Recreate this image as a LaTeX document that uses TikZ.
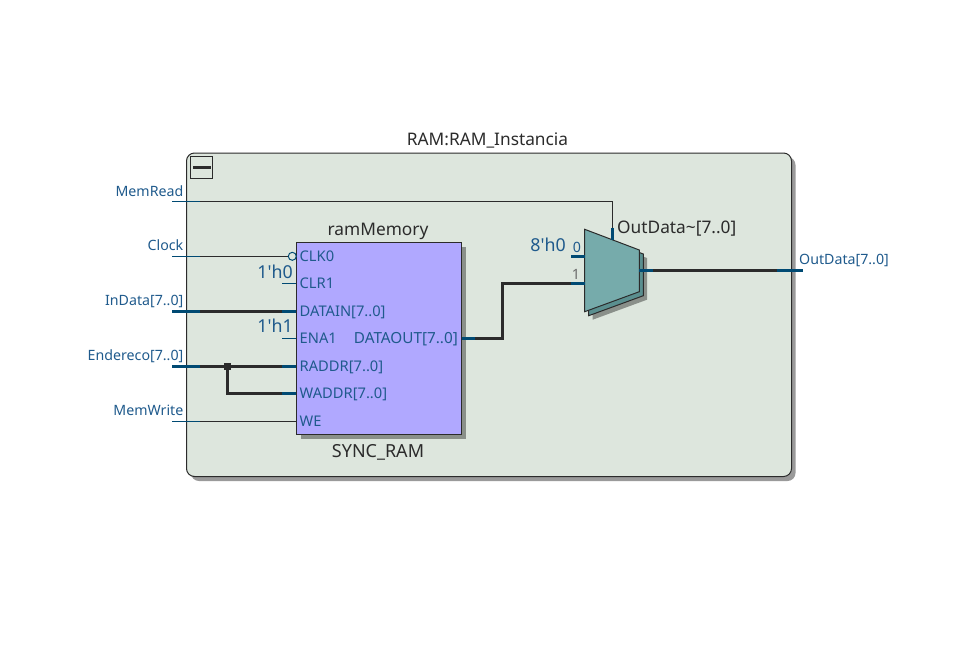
\documentclass[tikz,border=0pt]{standalone}
\usepackage{fontspec}
\setmainfont{Noto Sans}
\definecolor{frameFill}{HTML}{DDE6DD}
\definecolor{shadowGray}{HTML}{9A9A9A}
\definecolor{blockShadow}{HTML}{8A908A}
\definecolor{blockFill}{HTML}{B0A8FF}
\definecolor{muxFill}{HTML}{76ABAB}
\definecolor{muxBack}{HTML}{5A8F8F}
\definecolor{wireDark}{HTML}{2B2B2B}
\definecolor{wireTeal}{HTML}{004A73}
\definecolor{labelBlue}{HTML}{1F5A8C}
\tikzset{
  thinW/.style={draw=wireDark,line width=1pt},
  thinT/.style={draw=wireTeal,line width=1pt},
  busW/.style={draw=wireDark,line width=3pt},
  busT/.style={draw=wireTeal,line width=3pt},
  lbl/.style={inner sep=0pt,text=labelBlue,font=\fontsize{14.2}{16}\selectfont},
  plbl/.style={inner sep=0pt,text=labelBlue,font=\fontsize{14.7}{16}\selectfont,anchor=base west},
  ttl/.style={inner sep=0pt,text=wireDark,font=\fontsize{17.3}{19}\selectfont},
  cst/.style={inner sep=0pt,text=labelBlue,font=\fontsize{17.8}{20}\selectfont},
}
\begin{document}
\begin{tikzpicture}[x=1pt,y=-1pt]
\useasboundingbox (0,0) rectangle (965,659);
% outer frame
\fill[shadowGray,rounded corners=8pt] (191,157) rectangle (795.5,481);
\node[draw=wireDark,fill=frameFill,line width=1pt,rounded corners=8pt,inner sep=0pt,minimum width=605pt,minimum height=323.5pt] (frame) at (489,314.75) {};
\node[ttl,anchor=base] (frametitle) at (487.5,145) {RAM:RAM\_Instancia};
% collapse toggle
\node[draw=wireDark,line width=1pt,inner sep=0pt,minimum size=22pt] (toggle) at (201.5,167) {};
\fill[wireDark] (193,166) rectangle (211,169);
% block
\fill[blockShadow] (300.8,247.2) rectangle (466.2,438.8);
\node[draw=wireDark,fill=blockFill,line width=1pt,inner sep=0pt,minimum width=165.4pt,minimum height=191.6pt] (ram) at (379,338.5) {};
\node[ttl,anchor=base] (ramname) at (378,235) {ramMemory};
\node[ttl,anchor=base,font=\fontsize{18}{20}\selectfont] (ramtype) at (378,457) {SYNC\_RAM};
% mux
\fill[blockShadow] (592.7,237.3) -- (647,258) -- (647,299.7) -- (592.7,319.7) -- cycle;
\draw[draw=wireDark,fill=muxBack,line width=1pt] (588.7,233.3) -- (643.3,254) -- (643.3,295.7) -- (588.7,315.7) -- cycle;
\draw[draw=wireDark,fill=muxFill,line width=1pt] (584.7,229.3) coordinate (muxTL) -- (639.3,250) -- (639.3,291.7) -- (584.7,311.7) -- cycle;
\node[ttl,anchor=base west] (muxname) at (617,233) {OutData\textasciitilde[7..0]};
% coordinates
\coordinate (mrA) at (172,201.5); \coordinate (mrB) at (200,201.5); \coordinate (mrC) at (612.5,201.5); \coordinate (mrD) at (612.5,227.5); \coordinate (mrE) at (612.5,239.5);
\coordinate (ckA) at (172,256.3); \coordinate (ckB) at (200,256.3); \coordinate (ckC) at (288.2,256.3);
\coordinate (crA) at (282,283.3); \coordinate (crB) at (296.3,283.3);
\coordinate (diA) at (172,311.3); \coordinate (diB) at (200,311.3); \coordinate (diC) at (282,311.3); \coordinate (diD) at (296.3,311.3);
\coordinate (enA) at (282,338.3); \coordinate (enB) at (296.3,338.3);
\coordinate (adA) at (172,366.3); \coordinate (adB) at (200,366.3); \coordinate (adJ) at (227.3,366.3); \coordinate (adC) at (282,366.3); \coordinate (adD) at (296.3,366.3);
\coordinate (waA) at (227.3,393.3); \coordinate (waB) at (282,393.3); \coordinate (waC) at (296.3,393.3);
\coordinate (weA) at (172,421); \coordinate (weB) at (200,421); \coordinate (weC) at (296.3,421);
\coordinate (doA) at (461.7,338.3); \coordinate (doB) at (475,338.3); \coordinate (doC) at (502.5,338.3); \coordinate (doD) at (502.5,283.3); \coordinate (doE) at (571,283.3); \coordinate (doF) at (584.7,283.3);
\coordinate (m0A) at (571,256.3); \coordinate (m0B) at (584.7,256.3);
\coordinate (otA) at (639.3,270.3); \coordinate (otB) at (653,270.3); \coordinate (otC) at (777,270.3); \coordinate (otD) at (803,270.3);
% wires
\draw[thinT] (mrA) -- (mrB);
\draw[thinW] (mrB) -- (mrC) -- (mrD);
\draw[busT] (mrD) -- (mrE);
\draw[thinT] (ckA) -- (ckB);
\draw[thinW] (ckB) -- (ckC);
\node[circle,draw=wireTeal,fill=frameFill,line width=1pt,inner sep=0pt,minimum size=8pt] (ckBubble) at (292.3,256.3) {};
\draw[thinT] (crA) -- (crB);
\draw[busT] (diA) -- (diB);
\draw[busW] (diB) -- (diC);
\draw[busT] (diC) -- (diD);
\draw[thinT] (enA) -- (enB);
\draw[busT] (adA) -- (adB);
\draw[busW] (adB) -- (adC);
\draw[busT] (adC) -- (adD);
\draw[busW,line join=miter] (adJ) -- (waA) -- (waB);
\draw[busT] (waB) -- (waC);
\fill[wireDark] (223.8,362.8) rectangle (230.8,369.8);
\draw[thinT] (weA) -- (weB);
\draw[thinW] (weB) -- (weC);
\draw[busT] (doA) -- (doB);
\draw[busW,line join=miter] (doB) -- (doC) -- (doD) -- (doE);
\draw[busT] (doE) -- (doF);
\draw[busT] (m0A) -- (m0B);
\draw[busT] (otA) -- (otB);
\draw[busW] (otB) -- (otC);
\draw[busT] (otC) -- (otD);
% external labels
\node[lbl,anchor=base east] (lMR) at (183.5,196) {MemRead};
\node[lbl,anchor=base east] (lCk) at (183.5,250) {Clock};
\node[lbl,anchor=base east] (lID) at (183.5,305) {InData[7..0]};
\node[lbl,anchor=base east] (lEn) at (183.5,360) {Endereco[7..0]};
\node[lbl,anchor=base east] (lMW) at (183.5,415) {MemWrite};
\node[lbl,anchor=base west] (lOD) at (799,264) {OutData[7..0]};
% port labels
\node[plbl] (pCK) at (299.5,261.3) {CLK0};
\node[plbl] (pCL) at (299.5,288.3) {CLR1};
\node[plbl] (pDI) at (299.5,316.3) {DATAIN[7..0]};
\node[plbl] (pEN) at (299.5,343.3) {ENA1};
\node[plbl] (pRA) at (299.5,371.3) {RADDR[7..0]};
\node[plbl] (pWA) at (299.5,398.3) {WADDR[7..0]};
\node[plbl] (pWE) at (299.5,426) {WE};
\node[plbl,anchor=base east,font=\fontsize{15.3}{18}\selectfont] (pDO) at (458,343.3) {DATAOUT[7..0]};
% constants
\node[cst,anchor=base east] (c0) at (293,278) {1\textquotesingle h0};
\node[cst,anchor=base east] (c1) at (293,332) {1\textquotesingle h1};
\node[cst,anchor=base east] (c8) at (566,251) {8\textquotesingle h0};
\node[lbl,anchor=base] (m0) at (577,252) {0};
\node[lbl,anchor=base,text=wireDark!70] (m1) at (576,279) {1};
\end{tikzpicture}
\end{document}
